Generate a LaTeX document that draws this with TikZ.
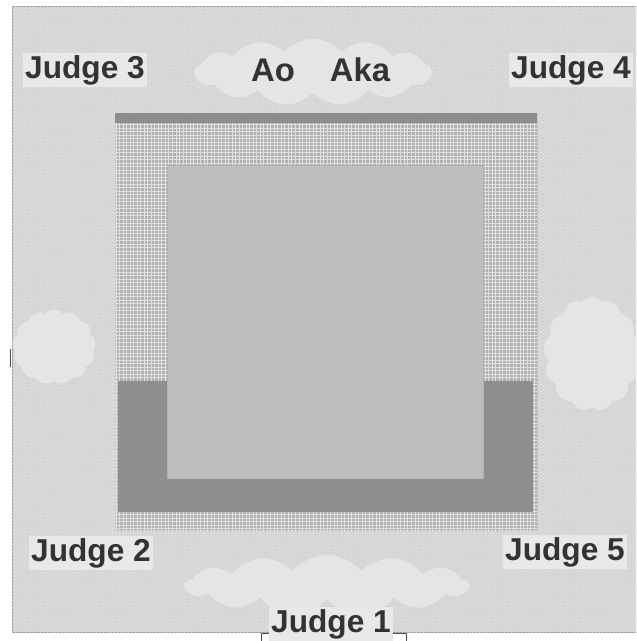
\documentclass[tikz,border=0pt]{standalone}
\usepackage{fontspec}
\setmainfont{Liberation Sans}
\usepackage{xcolor}
\usetikzlibrary{shapes.symbols, patterns, positioning}

\begin{document}
\begin{tikzpicture}[
    x=0.03cm, y=-0.03cm,
    judge/.style={font=\fontsize{27}{29}\selectfont\bfseries, text=black!80, fill=black!9, inner sep=1.5pt},
    side/.style={font=\fontsize{28}{30}\selectfont\bfseries, text=black!80, inner sep=1pt},
    puff/.style={cloud, cloud puffs=13, cloud puff arc=100, fill=black!10, draw=none, inner sep=0pt}
]
\useasboundingbox (0,0) rectangle (636,641);
\clip (0,0) rectangle (636,641);

% competition area
\fill[black!17] (12,6) rectangle (640,632);
\draw[black!40, thick] (640,6) -- (12,6) -- (12,632) -- (640,632);
\fill[pattern=crosshatch dots, pattern color=black!8] (12,6) rectangle (640,632);

% mat
\fill[black!31, draw=black!22] (115,113) rectangle (537,530);
\fill[pattern=grid, pattern color=black!12] (115,113) rectangle (537,530);
\fill[black!45] (115,113) rectangle (537,123);
\fill[black!44] (118,381) rectangle (533,512);
\fill[black!26, draw=black!30] (167,165) rectangle (483,478);

% clouds
\node[puff, minimum width=7.1cm, minimum height=2.0cm, aspect=3.6] (cloudtop) at (313,72) {};
\node[puff, minimum width=2.5cm, minimum height=2.25cm, aspect=1.1] (cloudleft) at (54,347) {};
\node[puff, minimum width=2.9cm, minimum height=3.4cm, aspect=0.85] (cloudright) at (592,354) {};
\node[puff, minimum width=8.5cm, minimum height=1.8cm, aspect=4.7] (cloudbottom) at (327,585) {};
\draw[black!70, thick] (10,349) -- (10,367);

% judges and fighters
\node[judge] (judgethree) at (85,70) {Judge 3};
\node[side] (ao) at (273,70) {Ao};
\node[side] (aka) at (360,70) {Aka};
\node[judge] (judgefour) at (571,70) {Judge 4};
\node[judge] (judgetwo) at (91,553) {Judge 2};
\node[judge] (judgefive) at (565,552) {Judge 5};
\fill[white, draw=black!70] (261,633) rectangle (406,660);
\node[judge] (judgeone) at (331,624) {Judge 1};

\end{tikzpicture}
\end{document}
